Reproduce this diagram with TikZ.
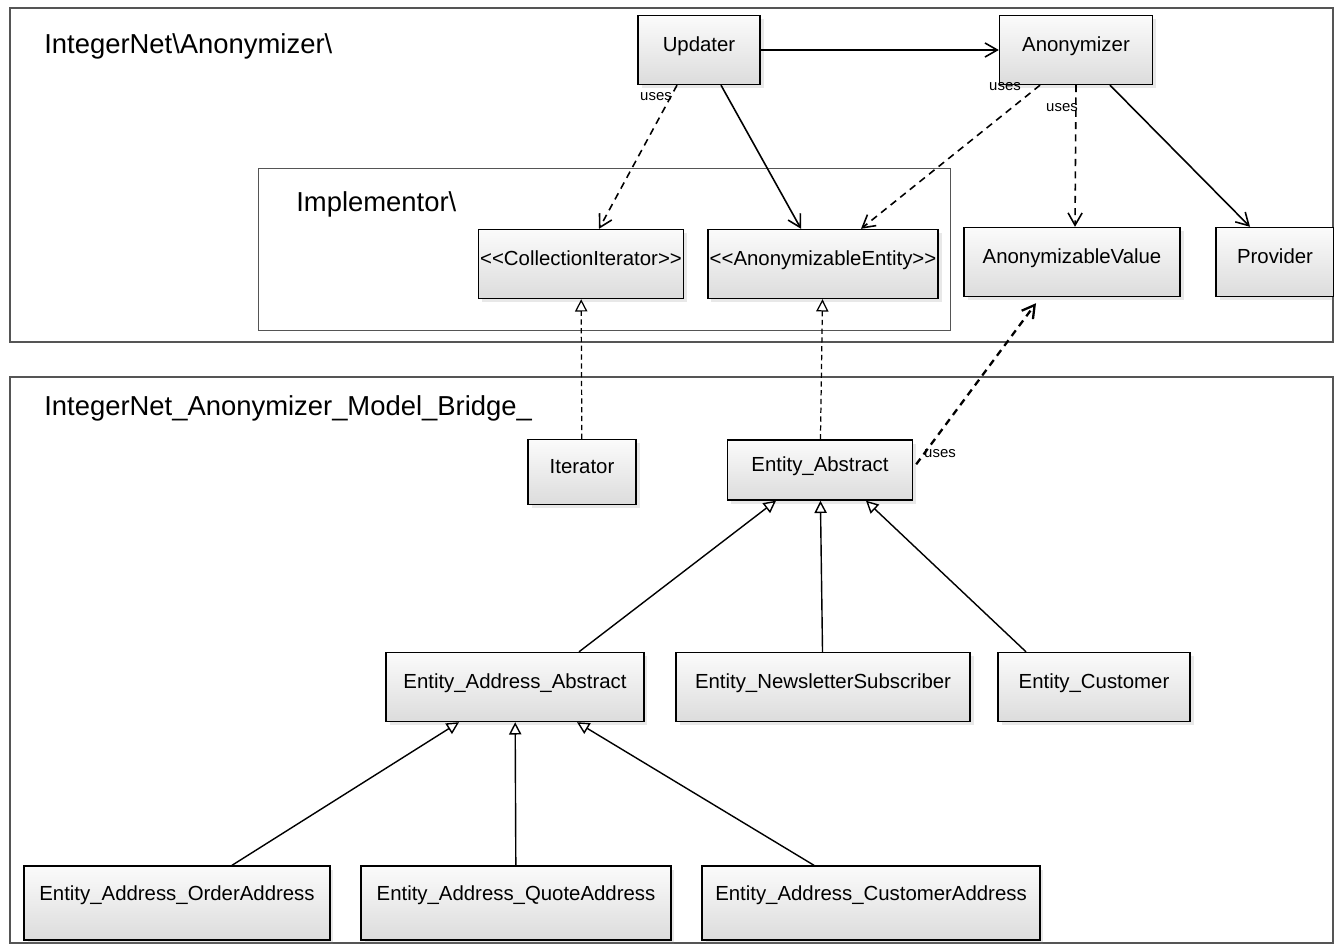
\documentclass[tikz,border=0pt]{standalone}
\usepackage{fontspec}
\setmainfont{Liberation Sans}
\usepackage{tikz}
\usetikzlibrary{arrows.meta, positioning, calc, shadows}
\definecolor{framegray}{HTML}{555555}
\definecolor{boxtop}{HTML}{FBFBFB}
\definecolor{boxbottom}{HTML}{DCDCDC}

\begin{document}
\begin{tikzpicture}[
  x=0.02cm, y=-0.02cm,
  cls/.style={
    draw, line width=0.8pt, top color=boxtop, bottom color=boxbottom,
    minimum width=#1, minimum height=1.38cm, inner sep=1pt,
    text height=8.5pt, text depth=7pt,
    font=\fontsize{11.6}{13}\selectfont, drop shadow={opacity=0.18, shadow xshift=2pt, shadow yshift=-2pt}
  },
  pkg/.style={draw=framegray, line width=0.7pt},
  pkglabel/.style={anchor=west, inner sep=0pt, font=\fontsize{15.6}{18}\selectfont},
  assoc/.style={-{Straight Barb[length=7pt, width=8pt]}, line width=0.9pt},
  uses/.style={assoc, dashed, dash pattern=on 4pt off 3pt},
  realize/.style={-{Triangle[open, length=7pt, width=7pt, fill=white]}, line width=0.7pt, dashed, dash pattern=on 3pt off 2pt},
  inherit/.style={-{Triangle[open, length=7pt, width=7pt, fill=white]}, line width=0.8pt},
  tag/.style={font=\fontsize{8.5}{10}\selectfont, inner sep=1pt}
]
  \useasboundingbox (0,0) rectangle (1334,943);

  % Packages
  \draw[pkg] (10,8) rectangle (1333,342);
  \draw[pkg, line width=0.5pt] (258,168) rectangle (950,330);
  \draw[pkg] (10,377) rectangle (1333,943);
  \node[pkglabel] (nsmain) at (44,46) {IntegerNet\textbackslash Anonymizer\textbackslash};
  \node[pkglabel] (nsimpl) at (296,204) {Implementor\textbackslash};
  \node[pkglabel] (nsbridge) at (44,408) {IntegerNet\_Anonymizer\_Model\_Bridge\_};

  % Classes of the anonymizer
  \node[cls=2.44cm] (updater) at (699,50) {Updater};
  \node[cls=3.06cm] (anonymizer) at (1076,50) {Anonymizer};
  \node[cls=3.96cm] (colliter) at (581,264) {{<}{<}CollectionIterator{>}{>}};
  \node[cls=4.52cm] (anonentity) at (823,264) {{<}{<}AnonymizableEntity{>}{>}};
  \node[cls=4.32cm] (anonvalue) at (1072,262) {AnonymizableValue};
  \node[cls=2.36cm] (provider) at (1275,262) {Provider};

  % Bridge classes
  \node[cls=2.16cm, minimum height=1.3cm] (iterator) at (582,472) {Iterator};
  \node[cls=3.7cm, minimum height=1.2cm] (entabstract) at (820,470) {Entity\_Abstract};
  \node[cls=5.16cm] (addrabstract) at (515,687) {Entity\_Address\_Abstract};
  \node[cls=5.88cm] (newsletter) at (823,687) {Entity\_NewsletterSubscriber};
  \node[cls=3.84cm] (customer) at (1094,687) {Entity\_Customer};
  \node[cls=6.12cm, minimum height=1.48cm, text depth=11pt] (orderaddr) at (177,903) {Entity\_Address\_OrderAddress};
  \node[cls=6.2cm, minimum height=1.48cm, text depth=11pt] (quoteaddr) at (516,903) {Entity\_Address\_QuoteAddress};
  \node[cls=6.76cm, minimum height=1.48cm, text depth=11pt] (custaddr) at (871,903) {Entity\_Address\_CustomerAddress};

  % Associations
  \draw[assoc] (updater.east) -- (anonymizer.west);
  \draw[uses] ($(updater.south)+(-22,0)$) -- ($(colliter.north)+(18,0)$);
  \draw[assoc] ($(updater.south)+(22,0)$) -- ($(anonentity.north)+(-22,0)$);
  \draw[uses] ($(anonymizer.south)+(-36,0)$) -- ($(anonentity.north)+(38,0)$);
  \draw[uses] ($(anonymizer.south)+(0,0)$) -- ($(anonvalue.north)+(3,0)$);
  \draw[assoc] ($(anonymizer.south)+(34,0)$) -- ($(provider.north)+(-25,0)$);
  \draw[uses, line width=1.3pt] ($(entabstract.north east)+(3,25)$) -- ($(anonvalue.south)+(-36,6)$);
  \node[tag] (uses1) at (656,97) {uses};
  \node[tag] (uses2) at (1005,87) {uses};
  \node[tag] (uses3) at (1062,108) {uses};
  \node[tag] (uses4) at (940,454) {uses};

  % Realizations
  \draw[realize] (iterator) -- (colliter);
  \draw[realize] (entabstract) -- (anonentity);

  % Inheritance
  \draw[inherit] ($(addrabstract.north)+(64,0)$) -- ($(entabstract.south)+(-44,0)$);
  \draw[inherit] (newsletter) -- (entabstract);
  \draw[inherit] ($(customer.north)+(-68,0)$) -- ($(entabstract.south)+(46,0)$);
  \draw[inherit] ($(orderaddr.north)+(55,0)$) -- ($(addrabstract.south)+(-56,0)$);
  \draw[inherit] (quoteaddr) -- (addrabstract);
  \draw[inherit] ($(custaddr.north)+(-57,0)$) -- ($(addrabstract.south)+(62,0)$);
\end{tikzpicture}
\end{document}
